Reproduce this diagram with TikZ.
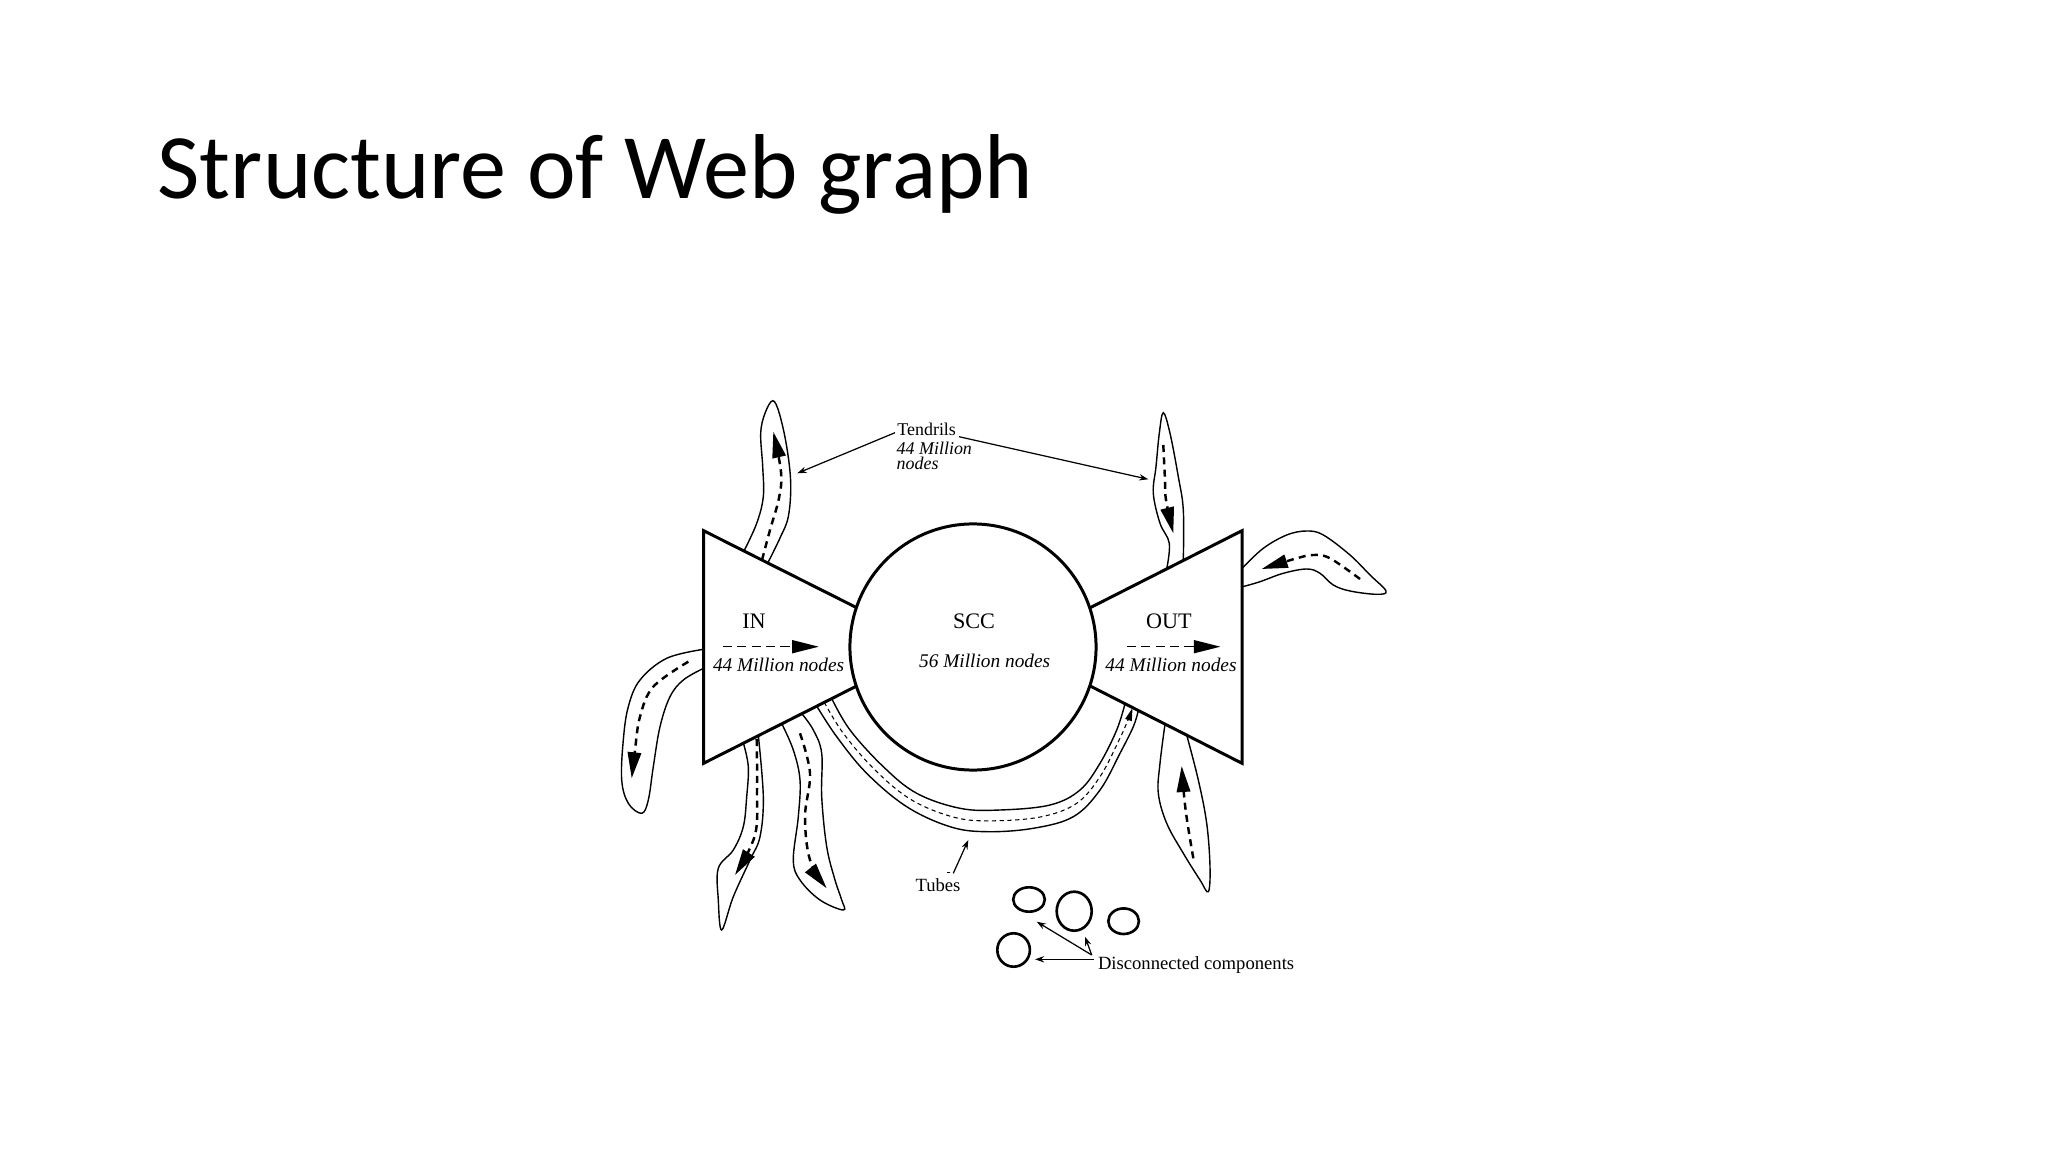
\documentclass[tikz,border=0pt]{standalone}
\usepackage{fontspec}
\setmainfont{Liberation Serif}
\newfontfamily\titlefont{Carlito}
\usetikzlibrary{arrows.meta}
\begin{document}
\begin{tikzpicture}[x=0.01cm,y=-0.01cm,
  bodyline/.style={line width=0.85pt, line join=miter},
  tend/.style={line width=0.4pt},
  flow/.style={line width=0.7pt, dash pattern=on 2pt off 1.5pt, -{Triangle[length=7.4pt,width=3.8pt]}},
  mainflow/.style={line width=0.45pt, dash pattern=on 2.6pt off 1.5pt, -{Triangle[length=7.6pt,width=3.7pt]}},
  tubeflow/.style={line width=0.3pt, dash pattern=on 1.2pt off 1pt, -{Triangle[length=3.6pt,width=1.9pt]}},
  labarrow/.style={line width=0.35pt, -{Stealth[length=2.6pt,width=1.8pt]}},
  big/.style={font=\fontsize{6.3}{7}\selectfont, inner sep=0},
  ital/.style={font=\fontsize{5.5}{6}\selectfont\itshape, inner sep=0},
  small/.style={font=\fontsize{5.3}{5.5}\selectfont, inner sep=0},
  comp/.style={line width=0.75pt}
]
\useasboundingbox (0,0) rectangle (2048,1152);

% title
\node[anchor=base west, inner sep=0, font=\titlefont\fontsize{26.2}{30}\selectfont] (title) at (157,199) {Structure of Web graph};

% SCC circle
\node[draw, bodyline, circle, inner sep=0, minimum size=2.46cm] (scc) at (973,647) {};
% IN and OUT trapezoids
\draw[bodyline] (856.7,607.7) -- (703.6,530.7) -- (703.6,763.3) -- (856.7,686);
\draw[bodyline] (1090.2,607.7) -- (1242,530.7) -- (1242,763.3) -- (1090.2,686);

% labels
\node[big, anchor=base] (inlab) at (754,628.3) {IN};
\node[big, anchor=base] (scclab) at (974,628.3) {SCC};
\node[big, anchor=base] (outlab) at (1169,628.3) {OUT};
\node[ital, anchor=base] (innum) at (778.6,671.7) {44 Million nodes};
\node[ital, anchor=base] (sccnum) at (984.7,667.3) {56 Million nodes};
\node[ital, anchor=base] (outnum) at (1171,671.7) {44 Million nodes};

% flow arrows in IN / OUT
\coordinate (ina) at (722.8,646.7);
\coordinate (inb) at (818.8,646.7);
\coordinate (outa) at (1126.8,646.7);
\coordinate (outb) at (1220.5,646.7);
\draw[mainflow] (ina) -- (inb);
\draw[mainflow] (outa) -- (outb);

% tendril top-left
\draw[tend] plot[smooth, tension=0.6] coordinates {(744,551) (756.7,523.3) (763.3,496.7) (762.7,466.7) (760.7,433.3) (765,413.3) (772.7,400.7) (779.3,413.3) (786.7,446.7) (790.7,483.3) (788.3,516.7) (780,538) (768,562.5)};
\draw[flow] plot[smooth, tension=0.6] coordinates {(762,560) (770,530) (779,498) (781,472) (773.3,431.7)};

% tendril top-right
\draw[tend] plot[smooth, tension=0.6] coordinates {(1166.7,568.9) (1169.3,543.3) (1160,523.3) (1153.3,493.3) (1156,466.7) (1159.3,433.3) (1163.3,412.7) (1170,433.3) (1178.3,476.7) (1183.3,510) (1183.3,560.5)};
\draw[flow] plot[smooth, tension=0.6] coordinates {(1163.3,445) (1165,480) (1166,500) (1173.3,533.3)};

% tendril far right
\draw[tend] plot[smooth, tension=0.6] coordinates {(1242.7,567.7) (1263.3,548.3) (1286.7,535) (1306.7,531) (1323.3,535) (1350,555) (1370,575) (1386,591) (1376.7,594.3) (1350,591) (1333.3,585) (1320,573.3) (1306.7,569) (1283.3,573.3) (1260,581.7) (1242.7,586.7)};
\draw[flow] plot[smooth, tension=0.6] coordinates {(1360,579) (1330,558.3) (1313.3,555) (1296.7,558.3) (1261.7,569)};

% tendril left
\draw[tend] plot[smooth, tension=0.6] coordinates {(703.6,649.3) (666.7,658.3) (640,680) (628.3,706.7) (623.3,740) (621.7,780) (628.3,803.3) (641.7,813.3) (648.3,800) (653.3,766.7) (660,726.7) (670,696.7) (683.3,680) (703.6,668.3)};
\draw[flow] plot[smooth, tension=0.6] coordinates {(688.3,661.7) (653.3,686.7) (640,716.7) (635,750) (631.7,778.3)};

% tendril bottom-left A
\draw[tend] plot[smooth, tension=0.6] coordinates {(743.3,742.7) (748.3,766.7) (746.7,796.7) (743.3,826.7) (733.3,850) (718.3,868.3) (718.3,900) (721.7,930) (733.3,896.7) (750,860) (760,836.7) (763.3,796.7) (758.3,735.2)};
\draw[flow] plot[smooth, tension=0.6] coordinates {(756.7,739) (757,790) (755,835) (735,875)};

% tendril bottom-left B
\draw[tend] plot[smooth, tension=0.6] coordinates {(781.7,723.5) (793.3,750) (800,780) (798.3,816.7) (793.3,860) (800,880) (820,900) (843.3,910) (841.7,900) (835,880) (826.7,846.7) (821.7,796.7) (821.7,753.3) (813.3,730) (801.7,713.5)};
\draw[flow] plot[smooth, tension=0.6] coordinates {(800,733.3) (810,773.3) (805,816.7) (810,860) (826.7,888.3)};

% tendril bottom-right
\draw[tend] plot[smooth, tension=0.6] coordinates {(1165,724.1) (1160,763.3) (1158.3,793.3) (1166.7,823.3) (1183.3,853.3) (1200,880) (1208.3,891.7) (1210,866.7) (1206.7,823.3) (1198.3,780) (1186.7,735.1)};
\draw[flow] plot[smooth, tension=0.6] coordinates {(1193.3,858.3) (1187,820) (1184,795) (1181.7,766)};

% tubes
\draw[tend] plot[smooth, tension=0.6] coordinates {(831.7,698.5) (850,730) (883.3,766.7) (916.7,793.3) (960,808.3) (1000,810) (1050,805) (1080,790) (1100,763.3) (1116.7,730) (1125,703.7)};
\draw[tend] plot[smooth, tension=0.6] coordinates {(816.7,706) (836.7,736.7) (866.7,773.3) (906.7,806.7) (950,826.7) (986.7,831.7) (1033.3,828.3) (1073.3,816.7) (1100,790) (1120,753.3) (1133.3,726.7) (1138.3,710.5)};
\draw[tubeflow] plot[smooth, tension=0.6] coordinates {(824.2,702.2) (843.3,733.3) (875,770) (911.7,800) (955,817.5) (993.3,820.8) (1041.7,816.7) (1076.7,803.3) (1100,776.7) (1118.3,741.7) (1128,720) (1132.5,708)};

% tendrils label
\node[small, anchor=base west, font=\fontsize{5.1}{5.5}\selectfont] (tlab) at (896.7,436) {Tendrils};
\node[ital, anchor=base west, font=\fontsize{5.1}{5.5}\selectfont\itshape] (tnum) at (896,455) {44 Million};
\node[ital, anchor=base west, font=\fontsize{5.1}{5.5}\selectfont\itshape] (tnodes) at (896,469.5) {nodes};
\coordinate (tl1) at (895,432.7);
\coordinate (tl1e) at (797.3,473.3);
\coordinate (tl2) at (959,436.7);
\coordinate (tl2e) at (1148.3,479.3);
\draw[labarrow] (tl1) -- (tl1e);
\draw[labarrow] (tl2) -- (tl2e);

% tubes label
\node[small, anchor=base] (tubes) at (938,891.7) {Tubes};
\coordinate (tu1) at (953.3,873.3);
\coordinate (tu2) at (968.3,840);
\draw[labarrow] (tu1) -- (tu2);
\draw[line width=0.35pt] (946.5,872.8) -- (949.5,872.8);

% disconnected components
\draw[comp] (1029,899.5) ellipse [x radius=15.8, y radius=12.2];
\draw[comp] (1074.2,911.2) ellipse [x radius=17.5, y radius=19.5];
\draw[comp] (1123.6,921.2) ellipse [x radius=15.3, y radius=12.8];
\draw[comp] (1013.6,950) ellipse [x radius=16.3, y radius=16.7];
\node[small, anchor=base west] (dlab) at (1097.3,969.3) {Disconnected components};
\coordinate (d0) at (1091.7,955);
\coordinate (d1) at (1036.7,921.7);
\coordinate (d2) at (1085,936.7);
\coordinate (d3s) at (1094,959.3);
\coordinate (d3) at (1035,959.3);
\draw[labarrow] (d0) -- (d1);
\draw[labarrow] (d0) -- (d2);
\draw[labarrow] (d3s) -- (d3);
\end{tikzpicture}
\end{document}
